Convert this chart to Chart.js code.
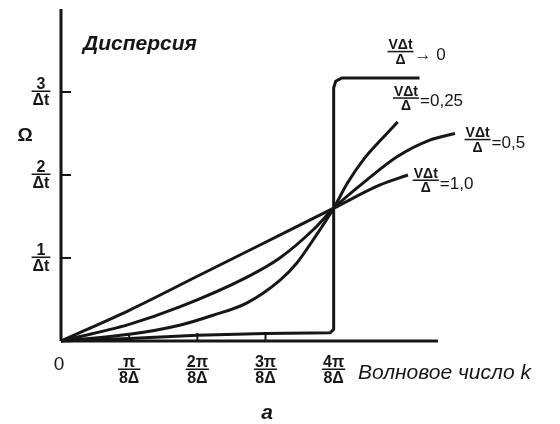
<!DOCTYPE html>
<html>
<head>
<meta charset="utf-8">
<script src="https://cdn.jsdelivr.net/npm/chart.js@4.4.0/dist/chart.umd.min.js"></script>
<style>
  body { margin: 0; background: #fff; }
</style>
</head>
<body>
<canvas id="mycanvas" width="560" height="424"></canvas>
<script>
// k in units of pi/(8*delta), omega in units of 1/dt
var kStep = [0, 1, 2, 3, 3.95, 4, 4, 4.03, 4.12, 5.26];
var omegaStep = [0, 0.03, 0.07, 0.09, 0.1, 0.14, 3.05, 3.13, 3.17, 3.17];

var k025 = [0, 1, 1.74, 2.23, 2.73, 3.21, 3.46, 3.7, 4, 4.2, 4.45, 4.7, 4.94];
var omega025 = [0, 0.08, 0.19, 0.31, 0.46, 0.73, 0.94, 1.22, 1.6, 1.9, 2.2, 2.43, 2.64];

var k05 = [0, 1, 1.74, 2.73, 3.21, 3.7, 4, 4.5, 4.93, 5.41, 5.78];
var omega05 = [0, 0.2, 0.41, 0.77, 1.0, 1.34, 1.6, 1.95, 2.22, 2.42, 2.5];

var k10 = [0, 1, 2, 3, 4, 4.68, 5.09];
var omega10 = [0, 0.37, 0.78, 1.19, 1.6, 1.88, 2.0];

var seriesNames = ["\u2192 0", "=0,25", "=0,5", "=1,0"];

var yTickValues = [1, 2, 3];
var yTickNum = ["1", "2", "3"];
var yTickDen = "\u0394t";
var xTickValues = [1, 2, 3, 4];
var xTickNum = ["\u03c0", "2\u03c0", "3\u03c0", "4\u03c0"];
var xTickDen = "8\u0394";

function toPoints(xs, ys) {
  var pts = [];
  for (var i in xs) {
    pts.push({x: xs[i], y: ys[i]});
  }
  return pts;
}

var ink = '#161616';

function lineSet(pts, smooth) {
  return {
    data: pts,
    borderColor: ink,
    borderWidth: 3,
    pointRadius: 0,
    fill: false,
    tension: smooth ? 0.4 : 0,
    cubicInterpolationMode: smooth ? 'monotone' : 'default',
    clip: false
  };
}

function fracWidth(ctx, num, den, size) {
  ctx.font = 'bold ' + size + 'px "Liberation Sans"';
  return Math.max(ctx.measureText(num).width, ctx.measureText(den).width) + 2;
}

function drawFrac(ctx, num, den, xLeft, barY, size, suffix) {
  var w = fracWidth(ctx, num, den, size);
  ctx.font = 'bold ' + size + 'px "Liberation Sans"';
  ctx.textAlign = 'center';
  ctx.textBaseline = 'alphabetic';
  ctx.fillText(num, xLeft + w / 2, barY - 2);
  ctx.fillText(den, xLeft + w / 2, barY + size * 0.75 + 2);
  ctx.fillRect(xLeft, barY - 0.5, w, 1.5);
  if (suffix) {
    ctx.font = (size + 3) + 'px "Liberation Sans"';
    ctx.textAlign = 'left';
    ctx.textBaseline = 'middle';
    ctx.fillText(suffix, xLeft + w + 1, barY + 4);
  }
}

var textPlugin = {
  id: 'textPlugin',
  afterDatasetsDraw: function(chart) {
    var ctx = chart.ctx;
    var xs = chart.scales.x, ys = chart.scales.y;
    var x0 = xs.getPixelForValue(0), y0 = ys.getPixelForValue(0);
    ctx.save();
    ctx.fillStyle = ink;
    ctx.strokeStyle = ink;
    ctx.lineWidth = 2;

    // inner tick marks
    yTickValues.forEach(function(v) {
      var py = ys.getPixelForValue(v);
      ctx.beginPath(); ctx.moveTo(x0, py); ctx.lineTo(x0 + 10, py); ctx.stroke();
    });
    xTickValues.slice(0, 3).forEach(function(v) {
      var px = xs.getPixelForValue(v);
      ctx.beginPath(); ctx.moveTo(px, y0); ctx.lineTo(px, y0 - 8); ctx.stroke();
    });

    // tick labels as fractions
    yTickValues.forEach(function(v, i) {
      var w = fracWidth(ctx, yTickNum[i], yTickDen, 16);
      drawFrac(ctx, yTickNum[i], yTickDen, 41 - w / 2, ys.getPixelForValue(v) - 1, 16);
    });
    xTickValues.forEach(function(v, i) {
      var w = fracWidth(ctx, xTickNum[i], xTickDen, 16);
      drawFrac(ctx, xTickNum[i], xTickDen, xs.getPixelForValue(v) - w / 2, y0 + 28, 16);
    });

    ctx.textAlign = 'center';
    ctx.textBaseline = 'middle';
    ctx.font = '19px "Liberation Sans"';
    ctx.fillText('0', x0 - 2, y0 + 24);
    ctx.font = 'bold 19px "Liberation Sans"';
    ctx.fillText('\u03a9', 25, 136);

    ctx.textAlign = 'left';
    ctx.font = 'italic bold 21px "Liberation Sans"';
    ctx.fillText('\u0414\u0438\u0441\u043f\u0435\u0440\u0441\u0438\u044f', 83, 44, 122);
    ctx.font = 'italic 21px "Liberation Sans"';
    ctx.fillText('\u0412\u043e\u043b\u043d\u043e\u0432\u043e\u0435 \u0447\u0438\u0441\u043b\u043e k', 358, 373, 189);
    ctx.font = 'italic bold 21px "Liberation Sans"';
    ctx.textAlign = 'center';
    ctx.fillText('\u0430', 267, 413);

    // curve labels  V dt / delta
    var anchors = [[4.79, 3.49], [4.87, 2.93], [5.92, 2.43], [5.16, 1.94]];
    anchors.forEach(function(a, i) {
      drawFrac(ctx, 'V\u0394t', '\u0394', xs.getPixelForValue(a[0]), ys.getPixelForValue(a[1]), 14, seriesNames[i]);
    });
    ctx.restore();
  }
};

var ctx = document.getElementById('mycanvas');

var myChart = new Chart(ctx, {
  type: 'line',
  data: {
    datasets: [
      lineSet(toPoints([0, 0], [0, 4]), false),
      lineSet(toPoints([0, 5.53], [0, 0]), false),
      lineSet(toPoints(kStep, omegaStep), false),
      lineSet(toPoints(k025, omega025), true),
      lineSet(toPoints(k05, omega05), true),
      lineSet(toPoints(k10, omega10), true)
    ]
  },
  options: {
    responsive: false,
    animation: false,
    devicePixelRatio: 1,
    layout: { padding: { left: 61, right: 90, top: 9, bottom: 83 } },
    plugins: { legend: { display: false }, tooltip: { enabled: false } },
    scales: {
      x: { type: 'linear', min: 0, max: 6, display: false },
      y: { type: 'linear', min: 0, max: 4, display: false }
    }
  },
  plugins: [textPlugin]
});
</script>
</body>
</html>
